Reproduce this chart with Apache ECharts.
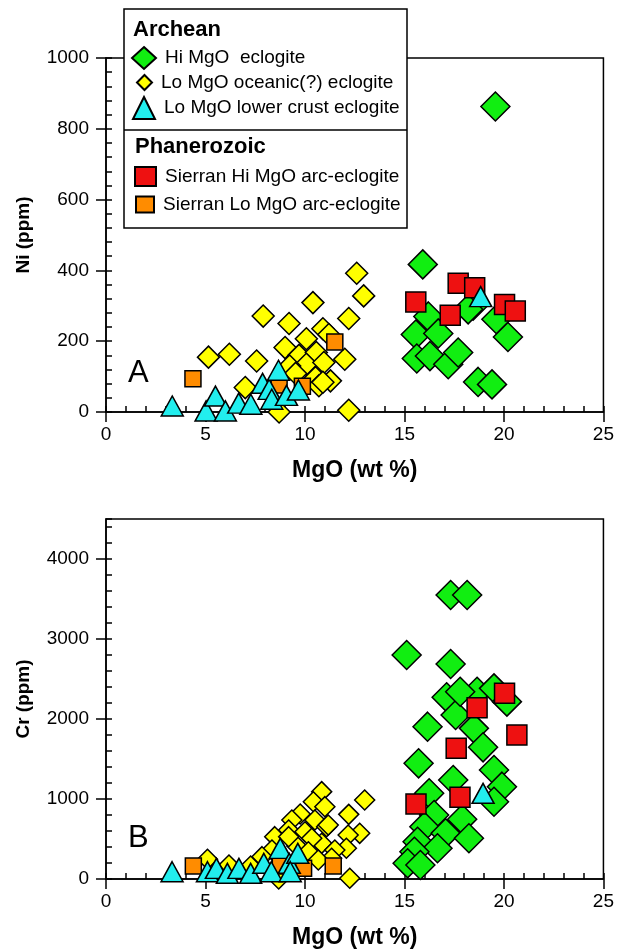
<!DOCTYPE html>
<html>
<head>
<meta charset="utf-8">
<script src="https://cdn.jsdelivr.net/npm/echarts@6/dist/echarts.min.js"></script>
<style>
html,body{margin:0;padding:0;background:#fff;}
#chart{width:617px;height:951px;}
</style>
</head>
<body>
<div id="chart"></div>
<script>
// ---------- DATA (MgO wt%, ppm) ----------
const seriesNames = ['Hi MgO  eclogite', 'Lo MgO oceanic(?) eclogite', 'Lo MgO lower crust eclogite',
  'Sierran Hi MgO arc-eclogite', 'Sierran Lo MgO arc-eclogite'];

// Panel A: Ni (ppm) vs MgO
const hiMgO_Ni = [[19.57,863],[15.92,417],[16.2,270],[15.57,219],[16.7,222],[15.62,151],[16.28,158],[17.2,135],
  [17.7,168],[18.45,300],[18.2,290],[18.7,85],[19.4,78],[19.62,262],[20.2,212]];
const loMgOoc_Ni = [[12.6,392],[12.95,328],[10.4,309],[7.9,271],[9.2,250],[12.2,264],[10.9,235],[11.2,219],
  [10.07,207],[9.0,182],[5.15,155],[6.2,163],[7.57,144],[9.7,160],[10.57,168],[10.07,135],[10.95,140],
  [12.0,149],[9.23,130],[9.53,109],[10.53,97],[11.28,88],[10.7,74],[10.9,84],[7.0,69],[8.7,0],[12.2,5]];
const loMgOlc_Ni = [[3.33,17],[5.03,3],[5.5,45],[6.0,3],[6.67,25],[7.28,22],[7.87,81],[8.2,64],[8.33,36],
  [8.67,118],[9.07,47],[9.67,62],[18.83,326]];
const sierraHi_Ni = [[15.57,311],[17.7,364],[18.53,351],[17.3,273],[20.03,304],[20.57,285]];
const sierraLo_Ni = [[4.37,94],[8.7,76],[9.87,73],[11.5,198]];

// Panel B: Cr (ppm) vs MgO
const hiMgO_Cr = [[17.32,3550],[18.15,3550],[15.11,2800],[17.32,2688],[17.12,2271],[17.57,2050],[18.65,2341],
  [19.5,2383],[20.15,2217],[17.8,2341],[16.16,1904],[18.49,1883],[18.95,1646],[15.71,1446],[19.5,1363],
  [17.45,1238],[16.24,1071],[19.9,1154],[19.5,966],[16.49,800],[17.9,746],[16.0,654],[17.07,571],[18.24,509],
  [15.66,466],[16.66,384],[15.5,341],[15.16,196],[15.8,175]];
const loMgOoc_Cr = [[10.84,1092],[13.0,988],[10.42,966],[11.0,904],[12.2,808],[9.76,813],[9.34,738],[10.5,738],
  [9.18,613],[11.09,654],[10.0,591],[12.75,571],[12.17,550],[8.48,529],[10.84,446],[10.34,509],[12.08,384],
  [9.59,413],[11.5,363],[10.17,341],[11.34,259],[10.67,238],[8.34,363],[7.84,279],[5.1,246],[6.18,175],
  [7.27,163],[12.25,9],[8.68,0],[11.17,675],[9.18,529]];
const loMgOlc_Cr = [[3.32,91],[5.1,91],[5.55,133],[6.1,71],[6.68,133],[7.27,71],[7.93,196],[8.31,91],[8.76,383],
  [9.21,196],[9.64,321],[9.26,91],[18.95,1071]];
const sierraHi_Cr = [[20.03,2321],[18.65,2142],[20.65,1800],[17.6,1633],[17.79,1021],[15.58,938]];
const sierraLo_Cr = [[4.39,163],[8.76,163],[9.93,133],[11.42,163]];

const xTicksMajor = 5, xTicksMinor = 1;

// ---------- STYLE ----------
const FONT = 'Liberation Sans, Arial, Helvetica, sans-serif';
const colors = ['#11ee11', '#ffff00', '#22eeee', '#ee1111', '#ff8c00'];
const symbols = ['diamond', 'diamond', 'triangle', 'rect', 'rect'];
const sizesA = [29, 22, [22, 20], 20, 16];
const sizesB = [29, 20, [22, 20], 20, 16];
const order = [0, 1, 4, 3, 2]; // drawing order: green, yellow, orange, red, cyan

const dataA = [hiMgO_Ni, loMgOoc_Ni, loMgOlc_Ni, sierraHi_Ni, sierraLo_Ni];
const dataB = [hiMgO_Cr, loMgOoc_Cr, loMgOlc_Cr, sierraHi_Cr, sierraLo_Cr];

function mkSeries(idx, data, axisIdx, sizes) {
  return {
    name: seriesNames[idx], type: 'scatter', xAxisIndex: axisIdx, yAxisIndex: axisIdx,
    symbol: symbols[idx], symbolSize: sizes[idx], data: data,
    itemStyle: { color: colors[idx], borderColor: '#000', borderWidth: 1.5, opacity: 1 },
    emphasis: { disabled: true }, silent: true, animation: false
  };
}
const series = [];
order.forEach(i => series.push(mkSeries(i, dataA[i], 0, sizesA)));
order.forEach(i => series.push(mkSeries(i, dataB[i], 2, sizesB)));

const lineBlack = { color: '#000', width: 1.5 };
const plainNum = v => String(v);
function mainX(grid, name) {
  return { type: 'value', gridIndex: grid, min: 0, max: 25, interval: xTicksMajor,
    axisLine: { show: true, lineStyle: lineBlack }, axisTick: { show: true, inside: false, length: 10, lineStyle: lineBlack },
    axisLabel: { color: '#000', fontSize: 19, fontFamily: FONT, margin: 13, formatter: plainNum }, splitLine: { show: false },
    name: name, nameLocation: 'middle', nameGap: 47,
    nameTextStyle: { color: '#000', fontSize: 23, fontWeight: 'bold', fontFamily: FONT } };
}
function minorX(grid) {
  return { type: 'value', gridIndex: grid, min: 0, max: 25, interval: xTicksMinor, position: 'bottom',
    axisLine: { show: false }, axisTick: { show: true, inside: true, length: 6, lineStyle: lineBlack },
    axisLabel: { show: false }, splitLine: { show: false } };
}
function mainY(grid, max, interval, name) {
  return { type: 'value', gridIndex: grid, min: 0, max: max, interval: interval,
    axisLine: { show: true, lineStyle: lineBlack }, axisTick: { show: true, inside: false, length: 10, lineStyle: lineBlack },
    axisLabel: { color: '#000', fontSize: 19, fontFamily: FONT, margin: 17, formatter: plainNum,
      showMaxLabel: max % interval === 0 }, splitLine: { show: false },
    name: name, nameLocation: 'middle', nameGap: 73,
    nameTextStyle: { color: '#000', fontSize: 19, fontWeight: 'bold', fontFamily: FONT } };
}
function minorY(grid, max, interval) {
  return { type: 'value', gridIndex: grid, min: 0, max: max, interval: interval, position: 'left',
    axisLine: { show: false }, axisTick: { show: true, inside: true, length: 6, lineStyle: lineBlack },
    axisLabel: { show: false }, splitLine: { show: false } };
}

function legendItem(idx, left, top, w, h) {
  return { show: true, left: left, top: top, orient: 'vertical', padding: 0, itemGap: 0,
    itemWidth: w, itemHeight: h, icon: symbols[idx], selectedMode: false, z: 30,
    data: [{ name: seriesNames[idx], icon: symbols[idx] }],
    textStyle: { color: '#000', fontSize: 19, fontFamily: FONT, padding: [0, 0, 0, 4] } };
}

const chart = echarts.init(document.getElementById('chart'), null, { renderer: 'canvas' });
chart.setOption({
  animation: false,
  backgroundColor: '#fff',
  grid: [
    { left: 106, top: 58, width: 500, height: 354, show: true, borderColor: '#000', borderWidth: 1.5, backgroundColor: 'transparent' },
    { left: 106, top: 519, width: 502, height: 360, show: true, borderColor: '#000', borderWidth: 1.5, backgroundColor: 'transparent' }
  ],
  xAxis: [mainX(0, 'MgO (wt %)'), minorX(0), mainX(1, 'MgO (wt %)'), minorX(1)],
  yAxis: [mainY(0, 1000, 200, 'Ni (ppm)'), minorY(0, 1000, 40), mainY(1, 4500, 1000, 'Cr (ppm)'), minorY(1, 4500, 200)],
  legend: [
    legendItem(0, 131, 46, 24, 22),
    legendItem(1, 136, 73, 15, 15),
    legendItem(2, 132, 96, 22, 22),
    legendItem(3, 134, 166, 21, 19),
    legendItem(4, 135, 195, 18, 16)
  ],
  graphic: [
    { type: 'rect', shape: { x: 124, y: 9, width: 283, height: 219 }, z: 20,
      style: { fill: '#fff', stroke: '#000', lineWidth: 1.5 } },
    { type: 'line', shape: { x1: 124, y1: 130, x2: 407, y2: 130 }, z: 21, style: { stroke: '#000', lineWidth: 1.5 } },
    { type: 'text', left: 133, top: 19, z: 21, style: { text: 'Archean', fill: '#000', font: 'bold 22px ' + FONT } },
    { type: 'text', left: 135, top: 136, z: 21, style: { text: 'Phanerozoic', fill: '#000', font: 'bold 22px ' + FONT } },
    { type: 'text', left: 128, top: 358, z: 21, style: { text: 'A', fill: '#000', font: '31px ' + FONT } },
    { type: 'text', left: 128, top: 823, z: 21, style: { text: 'B', fill: '#000', font: '31px ' + FONT } }
  ],
  series: series
});
</script>
</body>
</html>
